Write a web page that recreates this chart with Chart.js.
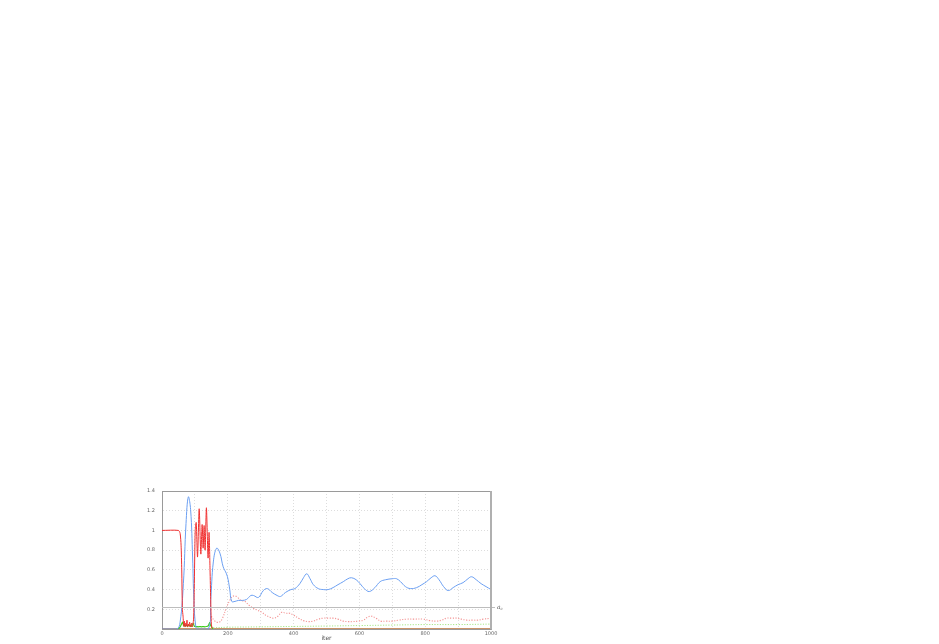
<!DOCTYPE html>
<html>
<head>
<meta charset="utf-8">
<script src="https://cdn.jsdelivr.net/npm/chart.js@4.4.1/dist/chart.umd.min.js"></script>
<style>
html,body{margin:0;padding:0;background:#fff;}
canvas{display:block;}
</style>
</head>
<body>
<canvas id="c" width="939" height="644"></canvas>
<script>
// ---- data ----
const xTickLabels = ['0','200','400','600','800','1000'];
const yTickLabels = ['0.2','0.4','0.6','0.8','1','1.2','1.4'];
const xAxisTitle = 'iter';
const acLevel = 0.22;
const acLabel = 'a';
const acSub = 'c';

const blueX = [0,45,55,65,73,80,87,93,97,103,110,141,148,156,166,176,186,196,201,206,212,222,232,245,257,270,278,293,308,320,335,350,360,375,392,404,419,430,440,450,460,475,490,505,520,535,551,565,576,590,602,615,630,647,663,680,700,713,725,740,755,774,790,804,818,830,842,856,870,885,900,915,930,941,955,970,985,1000];
const blueY = [0,0,0.07,0.46,1.07,1.34,1.21,0.73,0.29,0.02,0,0,0.29,0.68,0.82,0.77,0.63,0.56,0.50,0.40,0.28,0.28,0.29,0.29,0.30,0.34,0.34,0.32,0.39,0.41,0.37,0.34,0.33,0.37,0.40,0.41,0.46,0.52,0.56,0.51,0.45,0.41,0.40,0.40,0.42,0.45,0.48,0.51,0.52,0.50,0.46,0.41,0.38,0.42,0.48,0.50,0.51,0.51,0.48,0.43,0.41,0.42,0.45,0.48,0.52,0.54,0.50,0.43,0.39,0.42,0.45,0.47,0.51,0.53,0.50,0.46,0.43,0.40];

const redX = [0,50,55,58,60,62,64,66,68,70,72,74,76,78,80,82,84,86,88,90,92,94,96,98,101,104,108,113,118,122,125,128,131,135,140,143,146,148,150,152];
const redY = [1,1,0.97,0.85,0.6,0.2,0.13,0.03,0.08,0.02,0.06,0.03,0.09,0.02,0.05,0.03,0.07,0.02,0.04,0.06,0.02,0.05,0.1,0.4,1.0,1.08,0.73,1.22,0.76,1.06,0.82,1.05,0.80,1.23,0.72,0.98,0.6,0.3,0.05,0.01];

const pinkX = [150,158,166,175,184,196,206,214,222,230,240,252,265,278,290,303,315,328,340,352,364,376,388,400,415,430,445,460,475,490,505,520,535,550,565,580,595,612,625,637,650,665,680,700,720,743,765,794,815,835,850,865,880,896,910,926,945,960,977,1000];
const pinkY = [0.13,0.09,0.07,0.07,0.11,0.22,0.29,0.33,0.335,0.32,0.29,0.28,0.24,0.21,0.19,0.17,0.14,0.12,0.11,0.13,0.17,0.16,0.16,0.14,0.11,0.085,0.075,0.08,0.10,0.11,0.11,0.11,0.10,0.08,0.075,0.075,0.08,0.09,0.12,0.13,0.11,0.08,0.08,0.08,0.09,0.10,0.10,0.10,0.085,0.08,0.09,0.11,0.11,0.11,0.10,0.09,0.09,0.09,0.10,0.11];

const greenX = [50,55,58,61,63,66,68,71,74,77,80,83,86,89,92,95,98,101,105,110,115,120,125,130,135,140,143,145,148,152,155];
const greenY = [0,0.02,0.04,0.06,0.07,0.03,0.05,0.03,0.04,0.025,0.045,0.03,0.04,0.025,0.045,0.055,0.03,0.025,0.025,0.022,0.025,0.022,0.025,0.022,0.025,0.03,0.05,0.065,0.035,0.015,0];

const lgreenX = [155,200,300,400,500,600,700,800,900,1000];
const lgreenY = [0.012,0.018,0.022,0.026,0.03,0.035,0.04,0.045,0.045,0.05];

const brownX = [0,1000];
const brownY = [0,0];

function pts(xs, ys){ return xs.map((x,i)=>({x:x,y:ys[i]})); }

const overlay = {
  id:'overlay',
  afterDatasetsDraw(chart){
    const {ctx, chartArea:a, scales:{x,y}} = chart;
    ctx.save();
    const py = Math.round(y.getPixelForValue(acLevel))+0.5;
    ctx.strokeStyle='#bdbdbd'; ctx.lineWidth=1;
    ctx.beginPath(); ctx.moveTo(a.left, py); ctx.lineTo(a.right+4, py); ctx.stroke();
    ctx.strokeStyle='#9a9a9a';
    ctx.beginPath(); ctx.moveTo(a.left, a.top+0.5); ctx.lineTo(a.right, a.top+0.5); ctx.stroke();
    ctx.strokeStyle='#b0b0b0'; ctx.lineWidth=2;
    ctx.beginPath(); ctx.moveTo(a.right, a.top); ctx.lineTo(a.right, a.bottom); ctx.stroke();
    ctx.fillStyle='#555';
    ctx.font='italic 6px "DejaVu Serif"';
    ctx.textBaseline='middle'; ctx.textAlign='left';
    ctx.fillText(acLabel, a.right+6, py);
    ctx.font='italic 4px "DejaVu Serif"';
    ctx.fillText(acSub, a.right+9.5, py+1.5);
    ctx.font='6px "DejaVu Sans"';
    ctx.fillStyle='#555'; ctx.textAlign='center';
    ctx.fillText(xAxisTitle, (a.left+a.right)/2, a.bottom+9);
    ctx.restore();
  }
};

new Chart(document.getElementById('c'), {
  type:'line',
  data:{
    datasets:[
      {label:'red', data:pts(redX,redY), borderColor:'#f03030', borderWidth:1, pointRadius:0, tension:0.25},
      {label:'blue', data:pts(blueX,blueY), borderColor:'#6b9ff2', borderWidth:1, pointRadius:0, tension:0.4},
      {label:'green', data:pts(greenX,greenY), borderColor:'#3fcc1e', borderWidth:1.2, pointRadius:0, tension:0.2},
      {label:'pink', data:pts(pinkX,pinkY), borderColor:'#f39393', borderWidth:1.1, borderDash:[1.2,1.5], pointRadius:0, tension:0.4},
      {label:'lgreen', data:pts(lgreenX,lgreenY), borderColor:'#a6e886', borderWidth:1, borderDash:[1.2,1.5], pointRadius:0, tension:0.4},
      {label:'brown', data:pts(brownX,brownY), borderColor:'#b8703a', borderWidth:1.5, pointRadius:0, tension:0}
    ]
  },
  options:{
    responsive:false,
    animation:false,
    events:[],
    layout:{padding:{left:140, top:491, right:448, bottom:5}},
    plugins:{legend:{display:false}, tooltip:{enabled:false}},
    scales:{
      x:{
        type:'linear', min:0, max:1000,
        afterFit(s){ s.height = 10; },
        grid:{color:'#d4d4d4', drawTicks:false, lineWidth:0.8},
        border:{display:true, color:'#9a9a9a', dash:[1,2]},
        ticks:{stepSize:100, padding:2, color:'#666', font:{size:5, family:'DejaVu Sans'},
          maxRotation:0, autoSkip:false,
          callback:(v)=>{ const s=String(v); return xTickLabels.includes(s)?s:''; }}
      },
      y:{
        type:'linear', min:0, max:1.4,
        afterFit(s){ s.width = 22; },
        grid:{color:'#d4d4d4', drawTicks:false, lineWidth:0.8},
        border:{display:true, color:'#9a9a9a', dash:[1,2]},
        ticks:{stepSize:0.2, padding:7, color:'#666', font:{size:5, family:'DejaVu Sans'},
          callback:(v)=>{ const s=String(Math.round(v*10)/10); return yTickLabels.includes(s)?s:''; }}
      }
    }
  },
  plugins:[overlay]
});
</script>
</body>
</html>
